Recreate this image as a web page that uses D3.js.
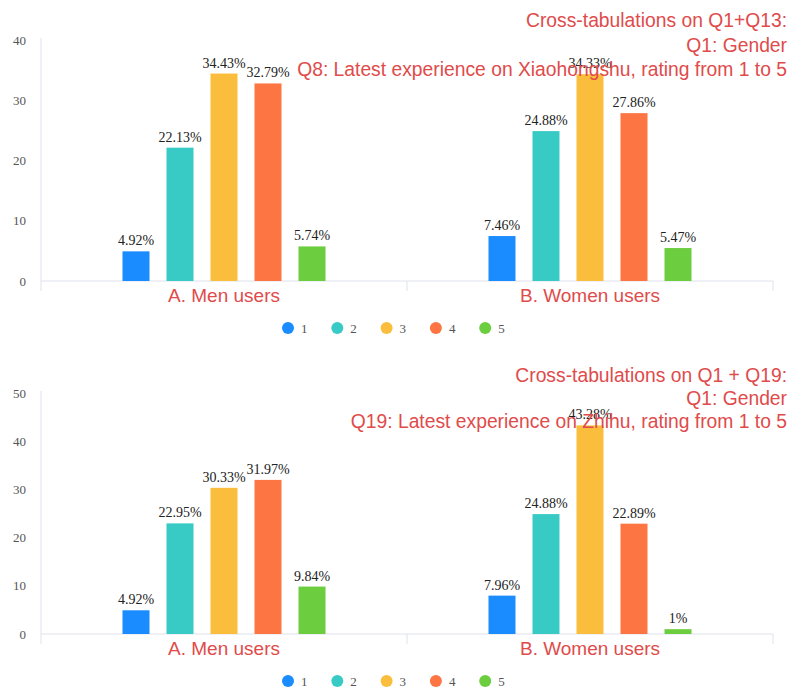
<!DOCTYPE html>
<meta charset="utf-8">
<script src="https://d3js.org/d3.v7.min.js"></script>
<style>
  body { margin: 0; background: #fff; }
</style>
<div id="chart"></div>

<script>
// data
const groups = ["A. Men users", "B. Women users"]
const ratings = ["1", "2", "3", "4", "5"]

const xhsMen = [4.92, 22.13, 34.43, 32.79, 5.74]
const xhsWomen = [7.46, 24.88, 34.33, 27.86, 5.47]
const xhsLabels = ["4.92%", "22.13%", "34.43%", "32.79%", "5.74%", "7.46%", "24.88%", "34.33%", "27.86%", "5.47%"]
const xhsTitle = ["Cross-tabulations on Q1+Q13:", "Q1: Gender", "Q8: Latest experience on Xiaohongshu, rating from 1 to 5"]

const zhMen = [4.92, 22.95, 30.33, 31.97, 9.84]
const zhWomen = [7.96, 24.88, 43.28, 22.89, 1]
const zhLabels = ["4.92%", "22.95%", "30.33%", "31.97%", "9.84%", "7.96%", "24.88%", "43.28%", "22.89%", "1%"]
const zhTitle = ["Cross-tabulations on Q1 + Q19:", "Q1: Gender", "Q19: Latest experience on Zhihu, rating from 1 to 5"]

const colors = ["#1a8cff", "#38cbc6", "#fbbe3c", "#fd7542", "#6ccd3f"]
const red = "#e04b4b"

const width = 789, height = 693
const svg = d3.select("#chart").append("svg")
    .attr("width", width)
    .attr("height", height)

const color = d3.scaleOrdinal().domain(ratings).range(colors)

function panel(cfg) {
    const g = svg.append("g")

    const x0 = d3.scaleBand()
        .domain(groups)
        .range([41, 773])

    const x1 = d3.scaleBand()
        .domain(ratings)
        .range([0, x0.bandwidth()])
        .paddingInner(17 / 44)
        .paddingOuter(1.852)

    const y = d3.scaleLinear()
        .domain([0, cfg.max])
        .range([cfg.bottom, cfg.top])

    // y axis: labels only, line drawn by hand
    g.append("g")
        .attr("transform", "translate(41,0)")
        .call(d3.axisLeft(y).tickValues(d3.range(0, cfg.max + 1, 10)).tickSize(0).tickPadding(15))
        .call(a => a.select(".domain").remove())
        .call(a => a.selectAll("text")
            .attr("fill", "#555")
            .style("font-family", "'Liberation Serif', 'Times New Roman', serif")
            .style("font-size", "13px"))

    g.append("line")
        .attr("x1", 41).attr("x2", 41)
        .attr("y1", cfg.top - 2).attr("y2", cfg.bottom + 10)
        .attr("stroke", "#dfe2ec")

    // x axis
    g.append("line")
        .attr("x1", 41).attr("x2", 773)
        .attr("y1", cfg.bottom).attr("y2", cfg.bottom)
        .attr("stroke", "#dfe2ec")

    g.selectAll(".sep")
        .data(groups)
        .join("line")
        .attr("x1", d => x0(d) + x0.bandwidth())
        .attr("x2", d => x0(d) + x0.bandwidth())
        .attr("y1", cfg.bottom)
        .attr("y2", cfg.bottom + 10)
        .attr("stroke", "#dfe2ec")

    g.append("g")
        .attr("transform", `translate(0, ${cfg.bottom})`)
        .call(d3.axisBottom(x0).tickSize(0).tickPadding(8))
        .call(a => a.select(".domain").remove())
        .call(a => a.selectAll("text")
            .attr("fill", red)
            .style("font-family", "'Liberation Sans', Arial, sans-serif")
            .style("font-size", "19px"))

    const rows = []
    groups.forEach((grp, gi) => {
        const vals = gi === 0 ? cfg.men : cfg.women
        vals.forEach((v, i) => rows.push({group: grp, rating: ratings[i], value: v, label: cfg.labels[gi * 5 + i]}))
    })

    g.append("g")
        .selectAll("rect")
        .data(rows)
        .join("rect")
        .attr("x", d => x0(d.group) + x1(d.rating))
        .attr("y", d => y(d.value))
        .attr("width", x1.bandwidth())
        .attr("height", d => cfg.bottom - y(d.value))
        .attr("fill", d => color(d.rating))

    g.append("g")
        .selectAll("text")
        .data(rows)
        .join("text")
        .attr("x", d => x0(d.group) + x1(d.rating) + x1.bandwidth() / 2)
        .attr("y", d => y(d.value) - 6)
        .attr("text-anchor", "middle")
        .attr("fill", "#222")
        .style("font-family", "'Liberation Serif', 'Times New Roman', serif")
        .style("font-size", "14px")
        .text(d => d.label)

    // title, right aligned (overlaps the tallest label, as in the source)
    g.append("g")
        .selectAll("text")
        .data(cfg.title)
        .join("text")
        .attr("x", 787)
        .attr("y", (d, i) => cfg.titleY + i * cfg.titleStep)
        .attr("text-anchor", "end")
        .attr("fill", red)
        .style("font-family", "'Liberation Sans', Arial, sans-serif")
        .style("font-size", "19.3px")
        .text(d => d)

    // legend
    const leg = g.append("g")
        .selectAll("g")
        .data(ratings)
        .join("g")
        .attr("transform", (d, i) => `translate(${288 + i * 49.3}, ${cfg.bottom + 47})`)

    leg.append("circle")
        .attr("r", 6)
        .attr("fill", d => color(d))

    leg.append("text")
        .attr("x", 13)
        .attr("y", 5)
        .attr("fill", "#555")
        .style("font-family", "'Liberation Serif', 'Times New Roman', serif")
        .style("font-size", "13px")
        .text(d => d)
}

panel({men: xhsMen, women: xhsWomen, labels: xhsLabels, title: xhsTitle,
       max: 40, top: 40, bottom: 281, titleY: 27, titleStep: 24.5})
panel({men: zhMen, women: zhWomen, labels: zhLabels, title: zhTitle,
       max: 50, top: 393, bottom: 634, titleY: 382, titleStep: 23})
</script>
